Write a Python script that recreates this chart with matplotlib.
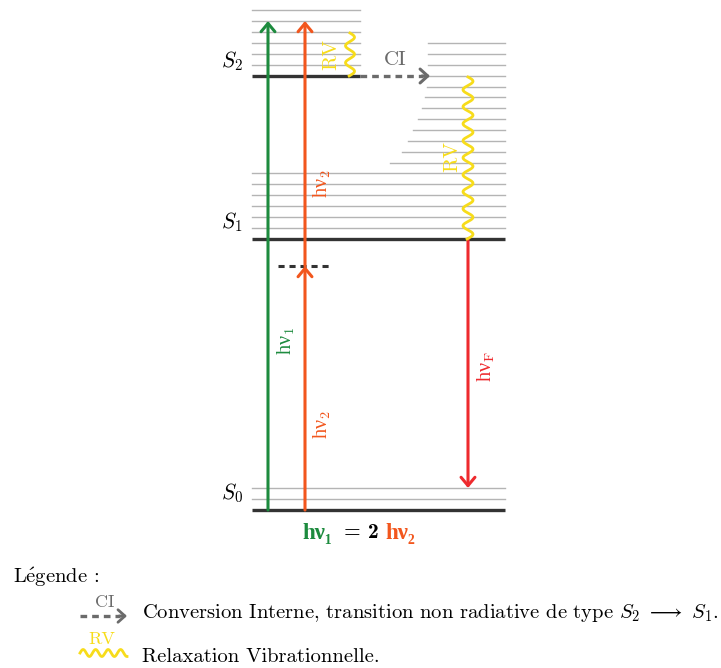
import numpy as np
import matplotlib
matplotlib.use("Agg")
import matplotlib.pyplot as plt

plt.rcParams['mathtext.fontset'] = 'cm'
plt.rcParams['font.family'] = ['cmr10', 'DejaVu Serif']
plt.rcParams['axes.unicode_minus'] = False

# ---- data (diagram coordinates, y grows downward) ----
s0_ground = 510
s0_vib = [499, 488]
s1_ground = 239
s1_vib = [228, 217, 206, 195, 184, 173]
s2_ground = 76
s2_vib = [65, 54, 43, 32, 21, 10]
s1_high_vib = [43, 54, 65, 76, 87, 97, 108, 119, 130, 141, 152, 163]
s1_high_start = [428, 428, 428, 428, 427, 425, 422, 418, 413, 408, 402, 390]
virtual_level = 266

x_left, x_s2_end, x_right = 252, 360, 505
x_hv1, x_hv2, x_fluo = 268, 305, 468
x_rv_small = 350
arrow_top = 21
fluo_end = 488
ci_end = 430

GREEN = '#1d8b3e'
ORANGE = '#f2561d'
RED = '#ee2a2e'
YELLOW = '#f7dc1b'
GREY = '#b4b4b4'
DARK = '#333333'
CIGREY = '#6b6b6b'

fig = plt.figure(figsize=(7.21, 6.68), dpi=100)
ax = fig.add_axes([0, 0, 1, 1])
ax.set_xlim(0, 721)
ax.set_ylim(668, 0)
ax.axis('off')

# grey vibrational levels
for y in s0_vib + s1_vib:
    ax.plot([x_left, x_right], [y, y], color=GREY, lw=1.0, zorder=1)
for y in s2_vib:
    ax.plot([x_left, x_s2_end], [y, y], color=GREY, lw=1.0, zorder=1)
for y, xs in zip(s1_high_vib, s1_high_start):
    ax.plot([xs, x_right], [y, y], color=GREY, lw=1.0, zorder=1)

# electronic ground levels
for y in (s0_ground, s1_ground):
    ax.plot([x_left, x_right], [y, y], color=DARK, lw=2.4, zorder=2, solid_capstyle='butt')
ax.plot([x_left, x_s2_end], [s2_ground, s2_ground], color=DARK, lw=2.4, zorder=2,
        solid_capstyle='butt')

# virtual level
ax.plot([278, 330], [virtual_level, virtual_level], color=DARK, lw=2.2,
        dashes=(2.0, 1.6), zorder=2)

def arrow(x0, y0, x1, y1, color, lw=2.2, hl=0.6, hw=0.5):
    ax.annotate('', xy=(x1, y1), xytext=(x0, y0),
                arrowprops=dict(arrowstyle=f'->,head_length={hl},head_width={hw}',
                                color=color, lw=lw,
                                shrinkA=0, shrinkB=0),
                zorder=4)

arrow(x_hv1, s0_ground, x_hv1, arrow_top, GREEN)
arrow(x_hv2, s0_ground, x_hv2, virtual_level, ORANGE)
arrow(x_hv2, virtual_level, x_hv2, arrow_top, ORANGE)
arrow(x_fluo, s1_ground, x_fluo, fluo_end, RED)

# internal conversion
ax.plot([x_s2_end, ci_end - 7], [s2_ground, s2_ground], color=CIGREY, lw=2.4,
        dashes=(2.0, 1.5), zorder=3)
arrow(ci_end - 8, s2_ground, ci_end, s2_ground, CIGREY, lw=2.2, hl=0.55, hw=0.5)

# vibrational relaxation wavy lines
def wavy(x, y0, y1, amp=5.0, period=17.0, color=YELLOW):
    y = np.linspace(y0, y1, 400)
    ax.plot(x + amp * np.sin(2 * np.pi * (y - y0) / period), y, color=color, lw=2.0,
            zorder=5)

wavy(x_rv_small, 33, s2_ground, amp=4.5)
wavy(x_fluo, s2_ground + 1, s1_ground)

# labels
ax.text(232, 61, r'$S_2$', fontsize=15.5, ha='center', va='center')
ax.text(232, 222, r'$S_1$', fontsize=15.5, ha='center', va='center')
ax.text(232, 493, r'$S_0$', fontsize=15.5, ha='center', va='center')

LBL = 14.5
HV = ['Liberation Serif', 'DejaVu Serif']
ax.text(286, 341, r'hν$_1$', color=GREEN, fontsize=LBL, rotation=90, family=HV,
        ha='center', va='center')
ax.text(322, 425, r'hν$_2$', color=ORANGE, fontsize=LBL, rotation=90, family=HV,
        ha='center', va='center')
ax.text(322, 184, r'hν$_2$', color=ORANGE, fontsize=LBL, rotation=90, family=HV,
        ha='center', va='center')
ax.text(486, 367, r'hν$_\mathrm{F}$', color=RED, fontsize=LBL, rotation=90, family=HV,
        ha='center', va='center')
ax.text(331, 54, 'RV', color=YELLOW, fontsize=15, rotation=90, ha='center', va='center')
ax.text(452, 157, 'RV', color=YELLOW, fontsize=15, rotation=90, ha='center', va='center')
ax.text(395, 60, 'CI', color=CIGREY, fontsize=15, ha='center', va='center')

# bottom equation
BOLD = ['Liberation Serif', 'DejaVu Serif']
ax.text(302, 533, 'hν\u2081', color=GREEN, fontsize=16.5, family=BOLD,
        fontweight='bold', ha='left', va='center')
ax.text(344, 533, '= 2', color='black', fontsize=15.5, family=['cmb10', 'DejaVu Serif'],
        ha='left', va='center')
ax.text(385, 533, 'hν\u2082', color=ORANGE, fontsize=16.5, family=BOLD,
        fontweight='bold', ha='left', va='center')

# legend
FS = 14.8
ax.text(13, 577, r'L$\mathregular{\acute{e}}$gende :', fontsize=FS, ha='left', va='center')
ax.plot([80, 120], [616, 616], color=CIGREY, lw=2.4, dashes=(2.0, 1.5))
ax.annotate('', xy=(127, 616), xytext=(119, 616),
            arrowprops=dict(arrowstyle='->,head_length=0.5,head_width=0.45',
                            color=CIGREY, lw=2.0, shrinkA=0, shrinkB=0))
ax.text(105, 602, 'CI', color=CIGREY, fontsize=13, ha='center', va='center')
ax.text(142, 613, r'Conversion Interne, transition non radiative de type $S_2\ \longrightarrow\ S_1$.',
        fontsize=FS, ha='left', va='center')

xw = np.linspace(80, 127, 300)
ax.plot(xw, 653 - 3.5 * np.sin(2 * np.pi * (xw - 80) / 12.5), color=YELLOW, lw=2.0)
ax.text(102, 639, 'RV', color=YELLOW, fontsize=13, ha='center', va='center')
ax.text(142, 657, 'Relaxation Vibrationnelle.', fontsize=FS, ha='left', va='center')

fig.savefig('out.png', dpi=100)
